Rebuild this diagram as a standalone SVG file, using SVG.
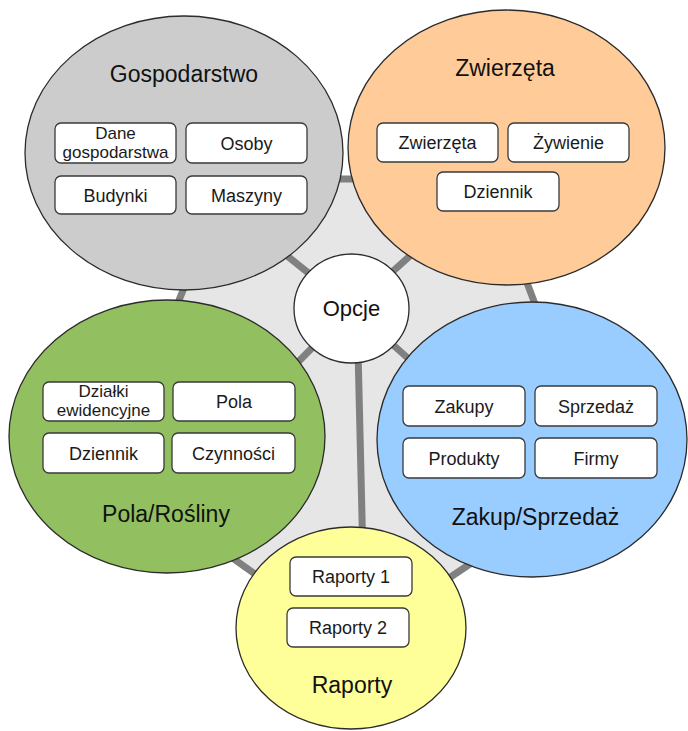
<svg xmlns="http://www.w3.org/2000/svg" width="688" height="731" viewBox="0 0 688 731">
  <style>
    .area { stroke: #2b2b2b; stroke-width: 1.3; }
    .box { fill: #ffffff; stroke: #3a3a3a; stroke-width: 1.3; }
    .title { font-family: "Liberation Sans", Arial, sans-serif; font-size: 23px; fill: #111111; text-anchor: middle; }
    .item { font-family: "Liberation Sans", Arial, sans-serif; font-size: 18px; fill: #1a1a1a; text-anchor: middle; }
    .item2 { font-family: "Liberation Sans", Arial, sans-serif; font-size: 17px; fill: #1a1a1a; text-anchor: middle; }
    .spoke { stroke: #808080; stroke-width: 7; stroke-linecap: butt; fill: none; }
  </style>
  <rect width="688" height="731" fill="#ffffff"/>

  <!-- frame and spokes joining the hub to each area -->
  <g id="connectors">
    <polygon points="228,179 488,179 600,477 352,643 110,471" fill="#e6e6e6" stroke="#808080" stroke-width="7" stroke-linejoin="round"/>
    <line class="spoke" x1="352" y1="308" x2="230" y2="210"/>
    <line class="spoke" x1="352" y1="308" x2="470" y2="202"/>
    <line class="spoke" x1="352" y1="308" x2="250" y2="410"/>
    <line class="spoke" x1="352" y1="308" x2="460" y2="405"/>
    <line class="spoke" x1="357" y1="308" x2="364" y2="600"/>
  </g>

  <g id="gospodarstwo">
    <ellipse class="area" cx="184" cy="153" rx="159" ry="137" fill="#cccccc"/>
    <text class="title" x="184" y="82">Gospodarstwo</text>
    <rect class="box" x="55" y="123" width="121" height="40" rx="6"/>
    <text class="item2" x="115.5" y="138.5">Dane</text>
    <text class="item2" x="115.5" y="157.5">gospodarstwa</text>
    <rect class="box" x="186" y="123" width="121" height="40" rx="6"/>
    <text class="item" x="246.5" y="149.5">Osoby</text>
    <rect class="box" x="55" y="176" width="121" height="38" rx="6"/>
    <text class="item" x="115.5" y="201.5">Budynki</text>
    <rect class="box" x="186" y="176" width="121" height="38" rx="6"/>
    <text class="item" x="246.5" y="201.5">Maszyny</text>
  </g>

  <g id="zwierzeta">
    <ellipse class="area" cx="506.5" cy="147.5" rx="158.5" ry="137.5" fill="#ffcc99"/>
    <text class="title" x="505" y="76">Zwierzęta</text>
    <rect class="box" x="377" y="123" width="121" height="39" rx="6"/>
    <text class="item" x="437.5" y="149">Zwierzęta</text>
    <rect class="box" x="508" y="123" width="121" height="39" rx="6"/>
    <text class="item" x="568.5" y="149">Żywienie</text>
    <rect class="box" x="437" y="172" width="122" height="39" rx="6"/>
    <text class="item" x="498" y="198">Dziennik</text>
  </g>

  <g id="pola">
    <ellipse class="area" cx="167" cy="436.5" rx="158" ry="136.5" fill="#92bf5f"/>
    <text class="title" x="166" y="522">Pola/Rośliny</text>
    <rect class="box" x="43" y="382" width="121" height="39" rx="6"/>
    <text class="item2" x="103.5" y="396.5">Działki</text>
    <text class="item2" x="103.5" y="415.5">ewidencyjne</text>
    <rect class="box" x="173" y="382" width="122" height="39" rx="6"/>
    <text class="item" x="234" y="408">Pola</text>
    <rect class="box" x="43" y="433" width="121" height="40" rx="6"/>
    <text class="item" x="103.5" y="459.5">Dziennik</text>
    <rect class="box" x="172" y="433" width="123" height="40" rx="6"/>
    <text class="item" x="233.5" y="459.5">Czynności</text>
  </g>

  <g id="zakup-sprzedaz">
    <ellipse class="area" cx="532" cy="439.5" rx="155" ry="137.5" fill="#99ccff"/>
    <text class="title" x="535.5" y="525">Zakup/Sprzedaż</text>
    <rect class="box" x="403" y="386" width="122" height="40" rx="6"/>
    <text class="item" x="464" y="412.5">Zakupy</text>
    <rect class="box" x="535" y="386" width="122" height="40" rx="6"/>
    <text class="item" x="596" y="412.5">Sprzedaż</text>
    <rect class="box" x="403" y="438" width="122" height="40" rx="6"/>
    <text class="item" x="464" y="464.5">Produkty</text>
    <rect class="box" x="535" y="438" width="122" height="40" rx="6"/>
    <text class="item" x="596" y="464.5">Firmy</text>
  </g>

  <g id="raporty">
    <ellipse class="area" cx="351" cy="628" rx="115" ry="101" fill="#ffff99"/>
    <text class="title" x="352" y="693">Raporty</text>
    <rect class="box" x="290" y="557" width="122" height="39" rx="6"/>
    <text class="item" x="351" y="583">Raporty 1</text>
    <rect class="box" x="287" y="608" width="122" height="39" rx="6"/>
    <text class="item" x="348" y="634">Raporty 2</text>
  </g>

  <g id="opcje">
    <ellipse class="area" cx="351.5" cy="308.5" rx="57.5" ry="54.5" fill="#ffffff"/>
    <text class="title" x="351.5" y="316" style="font-size:22px">Opcje</text>
  </g>
</svg>
